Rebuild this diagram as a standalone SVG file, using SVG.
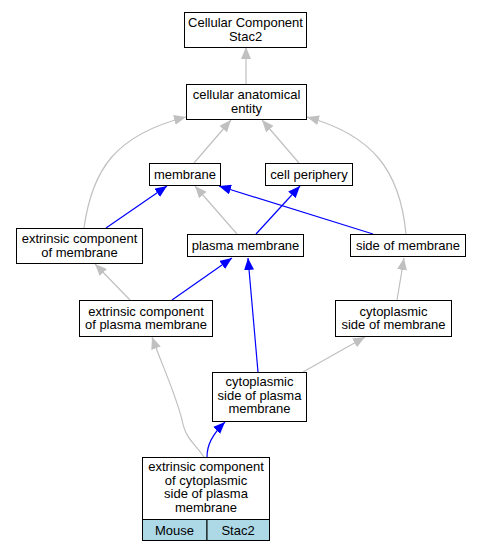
<svg xmlns="http://www.w3.org/2000/svg" width="481" height="552" viewBox="0 0 481 552">
<style>
.box{fill:#fff;stroke:#000;stroke-width:1}
.cell{fill:#add8e6;stroke:#000;stroke-width:1}
text{font-family:"Liberation Sans",Arial,sans-serif;font-size:13px;text-anchor:middle;fill:#000}
.g{fill:none;stroke:#c0c0c0;stroke-width:1.2;marker-end:url(#ag)}
.b{fill:none;stroke:#0000ff;stroke-width:1.2;marker-end:url(#ab)}
</style>
<defs>
<marker id="ag" markerWidth="12" markerHeight="10" refX="12" refY="5" orient="auto" markerUnits="userSpaceOnUse"><path d="M0,0 L12,5 L0,10 z" fill="#c0c0c0"/></marker>
<marker id="ab" markerWidth="12" markerHeight="10" refX="12" refY="5" orient="auto" markerUnits="userSpaceOnUse"><path d="M0,0 L12,5 L0,10 z" fill="#0000ff"/></marker>
</defs>
<rect width="481" height="552" fill="#fff"/>
<g id="edges">
<path class="g" d="M246,84 L246,47"/>
<path class="g" d="M194,163 L231,120"/>
<path class="g" d="M299,163 L262,120"/>
<path class="g" d="M84,228 C92,170 115,135 186,117"/>
<path class="g" d="M406,234 C400,170 372,135 307,117"/>
<path class="b" d="M106,228 L167,186"/>
<path class="g" d="M237,234 L195,186"/>
<path class="b" d="M373,234 L219,186"/>
<path class="b" d="M256,234 L300,186"/>
<path class="g" d="M130,300 L95,264"/>
<path class="b" d="M172,300 L232,258"/>
<path class="b" d="M258,372 L248,258"/>
<path class="g" d="M397,300 L404,258"/>
<path class="g" d="M303,372 L365,337"/>
<path class="g" d="M204,457 C194,442 186,440 182,420 C176,395 162,365 152,337"/>
<path class="b" d="M207,457 C207,445 212,435 225,422"/>
</g>
<g id="n1"><rect class="box" x="184.5" y="12.5" width="122" height="35"/><text x="245.5" y="27">Cellular Component</text><text x="245.5" y="40.5">Stac2</text></g>
<g id="n2"><rect class="box" x="186.5" y="84.5" width="120" height="35"/><text x="246.5" y="99">cellular anatomical</text><text x="246.5" y="112.5">entity</text></g>
<g id="n3"><rect class="box" x="149.5" y="163.5" width="71" height="22"/><text x="185" y="178.5">membrane</text></g>
<g id="n4"><rect class="box" x="265.5" y="163.5" width="87" height="22"/><text x="309" y="178.5">cell periphery</text></g>
<g id="n5"><rect class="box" x="16.5" y="228.5" width="126" height="35"/><text x="79.5" y="243">extrinsic component</text><text x="79.5" y="256.5">of membrane</text></g>
<g id="n6"><rect class="box" x="187.5" y="234.5" width="116" height="22"/><text x="245.5" y="250">plasma membrane</text></g>
<g id="n7"><rect class="box" x="350.5" y="234.5" width="115" height="22"/><text x="408" y="250">side of membrane</text></g>
<g id="n8"><rect class="box" x="79.5" y="300.5" width="133" height="36"/><text x="146" y="315.5">extrinsic component</text><text x="146" y="329">of plasma membrane</text></g>
<g id="n9"><rect class="box" x="335.5" y="300.5" width="116" height="36"/><text x="393.5" y="315.5">cytoplasmic</text><text x="393.5" y="329">side of membrane</text></g>
<g id="n10"><rect class="box" x="212.5" y="372.5" width="94" height="49"/><text x="259.5" y="386">cytoplasmic</text><text x="259.5" y="399.5">side of plasma</text><text x="259.5" y="413">membrane</text></g>
<g id="n11"><rect class="box" x="142.5" y="457.5" width="127" height="62"/><text x="206" y="471">extrinsic component</text><text x="206" y="484.5">of cytoplasmic</text><text x="206" y="498">side of plasma</text><text x="206" y="511.5">membrane</text><rect class="cell" x="142.5" y="519.5" width="64.5" height="21"/><rect class="cell" x="207" y="519.5" width="62.5" height="21"/><text x="174.5" y="534.5">Mouse</text><text x="238" y="534.5">Stac2</text></g>
</svg>
